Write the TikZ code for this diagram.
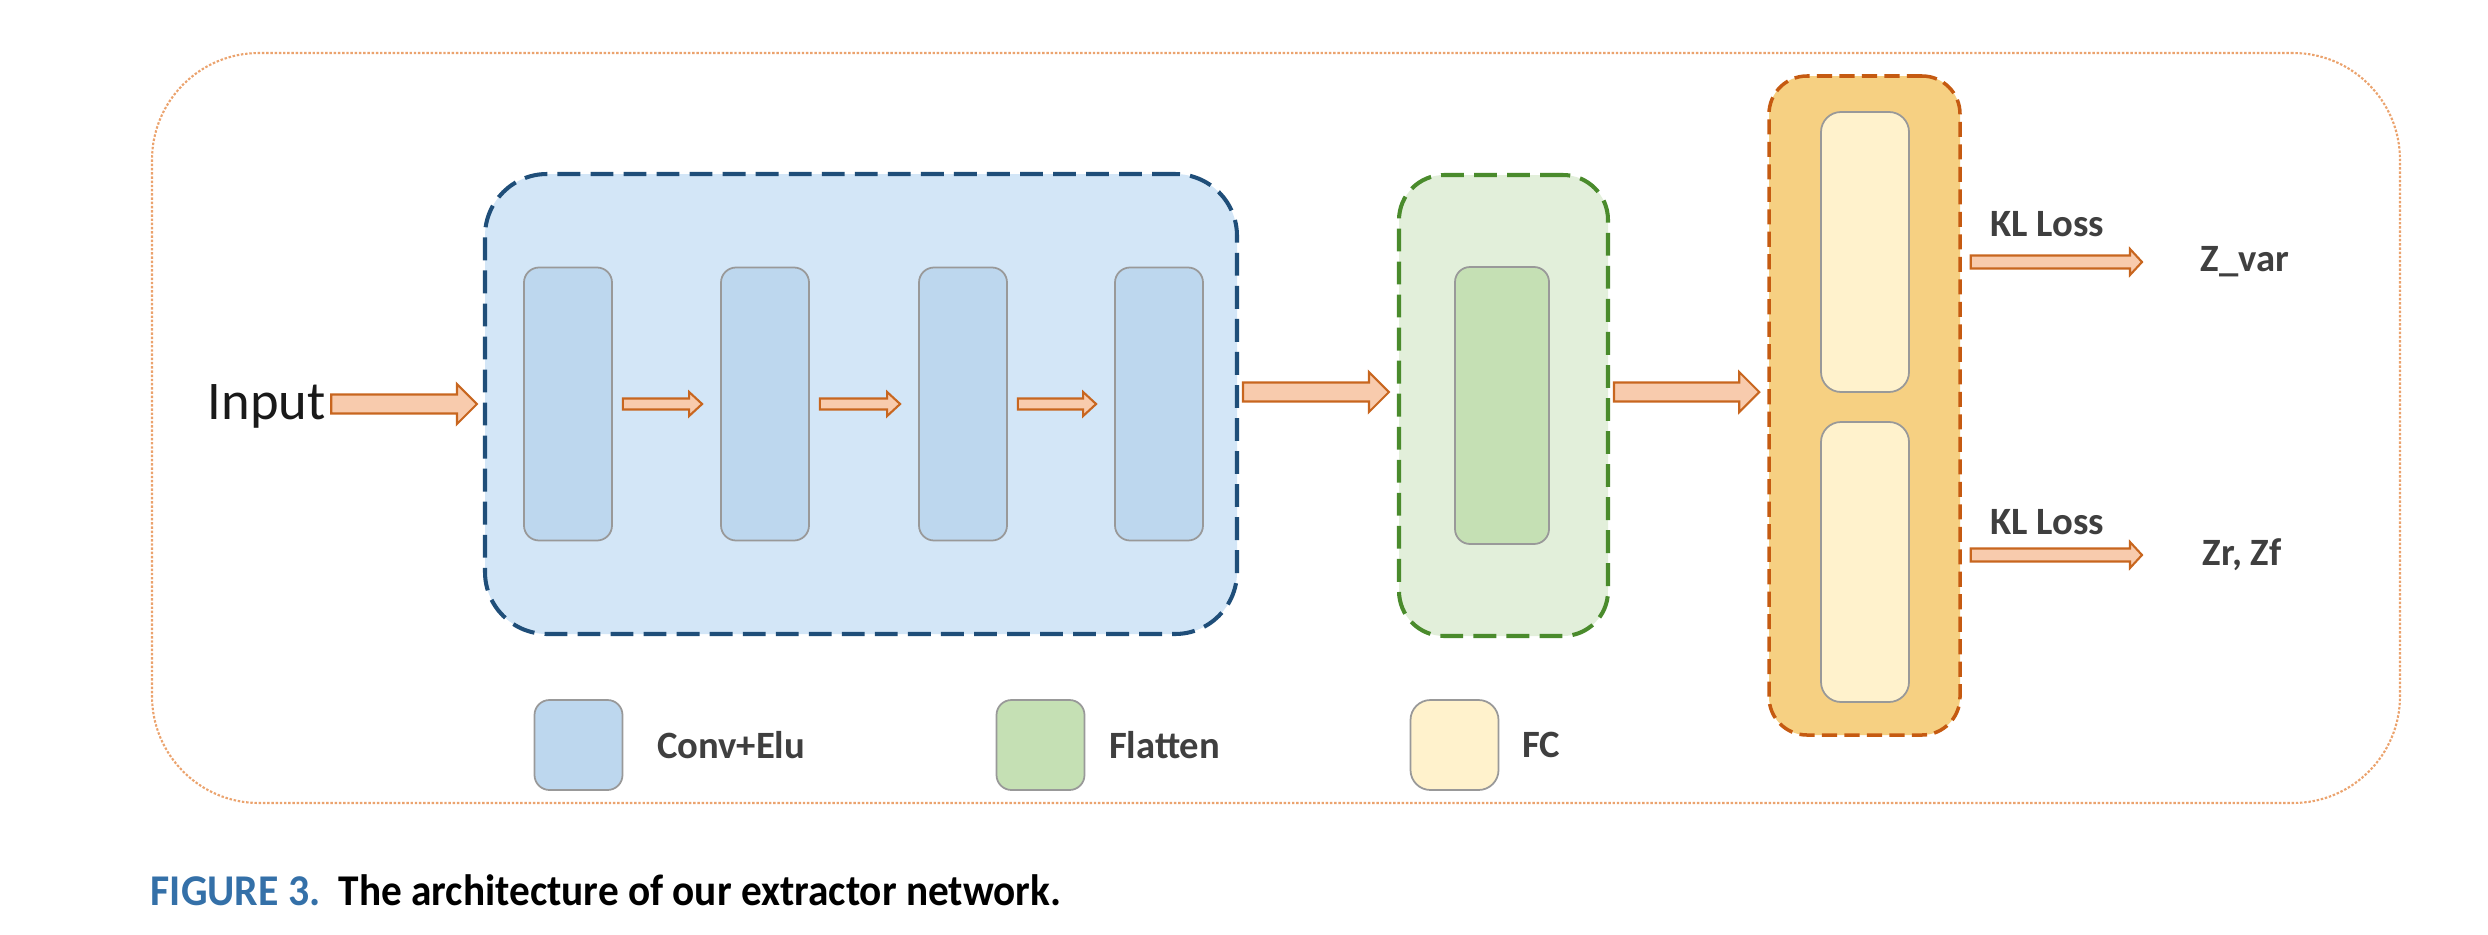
\documentclass[tikz,border=0pt]{standalone}
\usepackage{fontspec}
\setmainfont{Carlito}
\usepackage{graphicx}
\usetikzlibrary{calc,positioning}

\definecolor{outerline}{HTML}{EBA36E}
\definecolor{bluefill}{HTML}{D3E6F7}
\definecolor{blueline}{HTML}{1F4E79}
\definecolor{convfill}{HTML}{BDD7EE}
\definecolor{greenfill}{HTML}{E2EFDA}
\definecolor{greenline}{HTML}{4A8B2C}
\definecolor{flatfill}{HTML}{C5E0B4}
\definecolor{orangefill}{HTML}{F6D082}
\definecolor{orangeline}{HTML}{C55A11}
\definecolor{fcfill}{HTML}{FFF2CC}
\definecolor{blkline}{HTML}{999999}
\definecolor{arrfill}{HTML}{F8CBAD}
\definecolor{arrline}{HTML}{C8661F}
\definecolor{lbltext}{HTML}{3F3F3F}
\definecolor{capblue}{HTML}{3470A8}

\newcommand{\lblfont}{\fontsize{11pt}{13pt}\selectfont\bfseries}
\newcommand{\capfont}{\fontsize{12.5pt}{15pt}\selectfont\bfseries}

\tikzset{
  blk/.style={draw=blkline, line width=0.5pt, rounded corners=1.5mm, minimum width=8.8mm, minimum height=27.3mm, inner sep=0pt},
  convblk/.style={blk, fill=convfill},
  flatblk/.style={blk, fill=flatfill, minimum width=9.4mm, minimum height=27.7mm},
  fcblk/.style={blk, fill=fcfill, minimum height=28mm, rounded corners=2mm},
  keyblk/.style={minimum width=8.8mm, minimum height=9mm},
  grp/.style={line width=1.15pt, dash pattern=on 6.5pt off 2.9pt, inner sep=0pt},
  lbl/.style={font=\lblfont, text=lbltext, inner sep=0pt},
  fatarrow/.style n args={3}{draw=arrline, fill=arrfill, line width=0.6pt, line join=miter,
    to path={let \p1=(\tikztostart), \p2=(\tikztotarget) in
      (\x1,\y1+#1) -- (\x2-#3,\y1+#1) -- (\x2-#3,\y1+#2) -- (\x2,\y1)
      -- (\x2-#3,\y1-#2) -- (\x2-#3,\y1-#1) -- (\x1,\y1-#1) -- cycle}},
  bigarrow/.style={fatarrow={0.95mm}{2mm}{2mm}},
  smallarrow/.style={fatarrow={0.55mm}{1.2mm}{1.3mm}},
  outarrow/.style={fatarrow={0.65mm}{1.3mm}{1.2mm}},
}

\begin{document}
\begin{tikzpicture}
  \useasboundingbox (0,0) rectangle (24.88,9.34);

  \node[draw=outerline, line width=0.6pt, dash pattern=on 0.7pt off 0.5pt, rounded corners=10.7mm,
        minimum width=224.8mm, minimum height=75mm] (frame) at (12.76,5.06) {};

  \node[grp, draw=blueline, fill=bluefill, rounded corners=6.2mm, minimum width=75.2mm, minimum height=46mm] (conv) at (8.61,5.30) {};
  \node[grp, draw=greenline, fill=greenfill, rounded corners=4.5mm, minimum width=20.9mm, minimum height=46.1mm] (flat) at (15.035,5.285) {};
  \node[grp, draw=orangeline, fill=orangefill, line width=1pt, dash pattern=on 4.3pt off 2.1pt, rounded corners=3.8mm,
        minimum width=19.1mm, minimum height=65.9mm] (fc) at (18.645,5.285) {};

  \foreach \i/\x in {1/5.68, 2/7.65, 3/9.63, 4/11.59}
    \node[convblk] (c\i) at (\x,5.30) {};
  \node[flatblk] (f1) at (15.02,5.285) {};
  \node[fcblk] (fca) at (18.65,6.82) {};
  \node[fcblk] (fcb) at (18.65,3.72) {};

  \node[anchor=base west, inner sep=0pt, font=\fontsize{15.5pt}{18pt}\selectfont, text=black!90] (inp) at (2.07,5.15) {Input};

  \draw[bigarrow] ([xshift=0.5mm]inp.east |- conv.west) to ([xshift=-0.6mm]conv.west);
  \foreach \a/\b in {c1/c2, c2/c3, c3/c4}
    \draw[smallarrow] ([xshift=1mm]\a.east) to ([xshift=-1.8mm]\b.west);
  \draw[bigarrow] ([xshift=0.4mm, yshift=1.2mm]conv.east) to ([xshift=-0.8mm]flat.west);
  \draw[bigarrow] ([xshift=0.4mm, yshift=1.35mm]flat.east) to ([xshift=-0.8mm]fc.west);

  \node[lbl, anchor=west] (zvar) at (22.0,6.72) {Z\_var};
  \node[lbl, anchor=west] (zrf) at (22.02,3.79) {Zr, Zf};
  \draw[outarrow] ([xshift=0.9mm]fc.east |- zvar.west) to ([xshift=-5.8mm]zvar.west);
  \draw[outarrow] ([xshift=0.9mm]fc.east |- zrf.west) to ([xshift=-6mm]zrf.west);
  \node[lbl] (kla) at (20.47,7.10) {KL Loss};
  \node[lbl] (klb) at (20.47,4.12) {KL Loss};

  % legend
  \node[convblk, keyblk] (kconv) at (5.785,1.89) {};
  \node[flatblk, keyblk] (kflat) at (10.405,1.89) {};
  \node[fcblk, keyblk] (kfc) at (14.545,1.89) {};
  \node[lbl, right=3.3mm of kconv] {Conv+Elu};
  \node[lbl, right=2.3mm of kflat] {Flatten};
  \node[lbl, right=2.2mm of kfc] {FC};

  \node[anchor=base west, inner sep=0pt, font=\capfont, text=capblue] (fig) at (1.50,0.29) {\scalebox{0.95}[1]{FIGURE 3.}};
  \node[anchor=base west, inner sep=0pt, font=\capfont] (cap) at (3.38,0.29) {\scalebox{0.94}[1]{The architecture of our extractor network.}};
\end{tikzpicture}
\end{document}
